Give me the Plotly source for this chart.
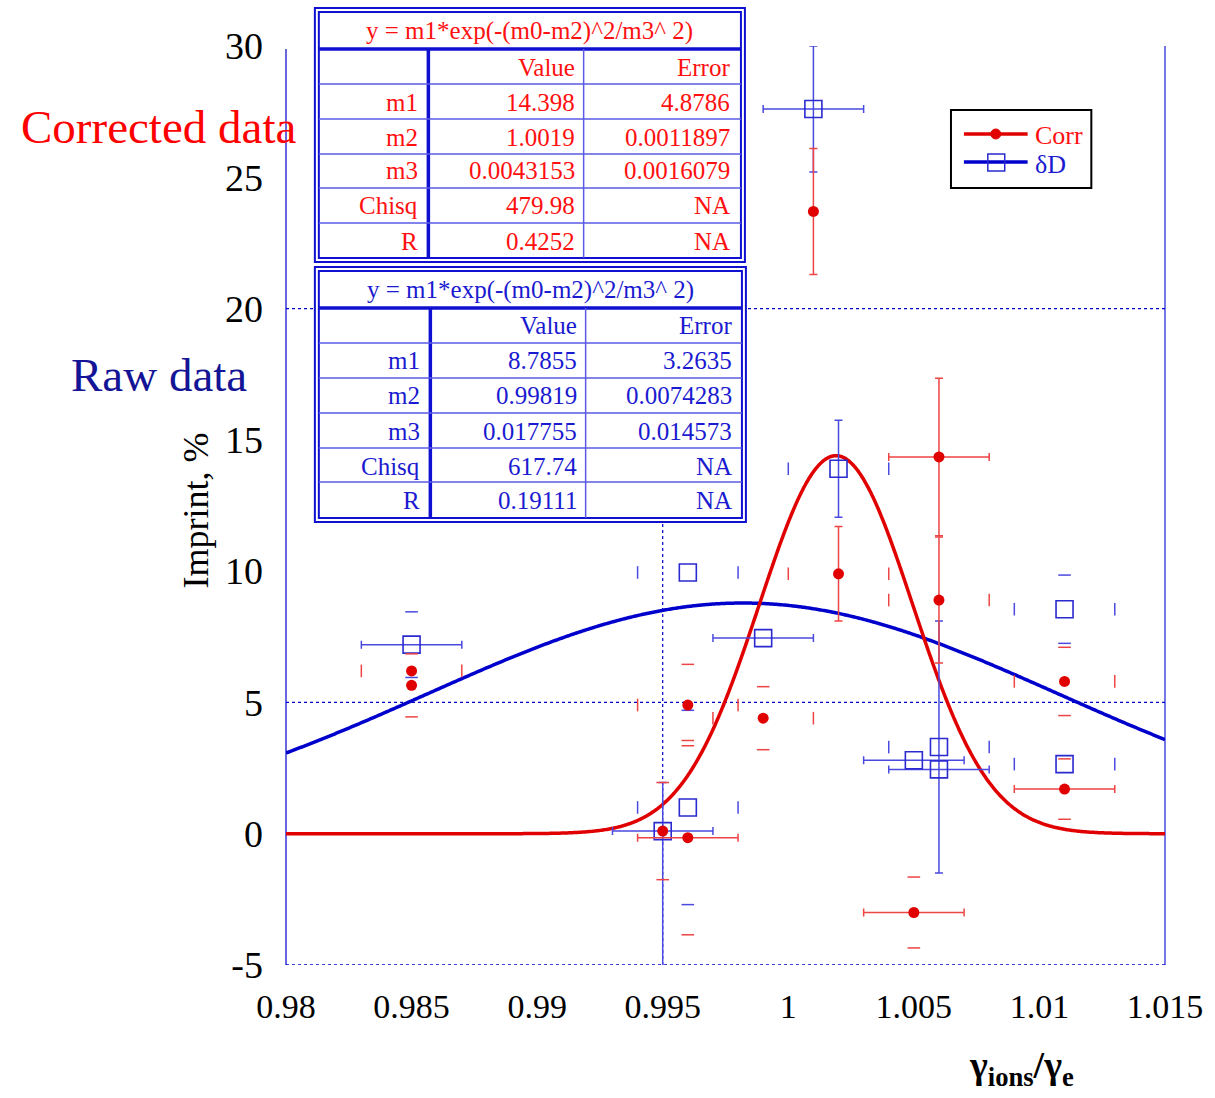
import numpy as np
import plotly.graph_objects as go

# ---------------- data ----------------
corr_x = [0.985, 0.985, 0.995, 0.996, 0.996, 0.999, 1.001, 1.002, 1.006, 1.006, 1.005, 1.011, 1.011]
corr_y = [6.2, 5.65, 0.1, 4.9, -0.15, 4.4, 23.7, 9.9, 14.35, 8.9, -3.0, 5.8, 1.7]
corr_xerr = [0.002, 0, 0, 0.002, 0.002, 0.002, 0, 0.002, 0.002, 0.002, 0.002, 0.002, 0.002]
corr_yerr = [0, 1.2, 1.85, 1.55, 3.7, 1.2, 2.4, 1.8, 3.0, 2.4, 1.35, 1.3, 1.15]
corr_xline = [0, 0, 0, 0, 1, 0, 0, 0, 1, 0, 1, 0, 1]
corr_yline = [0, 0, 0, 0, 0, 0, 1, 1, 1, 1, 0, 0, 0]

dd_x = [0.985, 0.995, 0.996, 0.996, 0.999, 1.001, 1.002, 1.005, 1.006, 1.006, 1.011, 1.011]
dd_y = [7.2, 0.1, 9.95, 1.0, 7.45, 27.6, 13.9, 2.8, 3.3, 2.45, 8.55, 2.65]
dd_xerr = [0.002, 0.002, 0.002, 0.002, 0.002, 0.002, 0.002, 0.002, 0.002, 0.002, 0.002, 0.002]
dd_yerr = [1.25, 1.85, 0, 3.7, 0, 2.4, 1.85, 0, 4.8, 0, 1.3, 0]
dd_yerr_lo = [1.25, 6.0, 0, 3.7, 0, 2.4, 1.85, 0, 4.8, 0, 1.3, 0]
dd_xline = [1, 1, 0, 0, 1, 1, 0, 1, 0, 1, 0, 0]
dd_yline = [0, 1, 0, 0, 0, 1, 1, 0, 1, 0, 0, 0]

# fit parameters (m1, m2, m3)
corr_fit = [14.398, 1.0019, 0.0043153]
dd_fit = [8.7855, 0.99819, 0.017755]

corr_table = [["m1", "14.398", "4.8786"], ["m2", "1.0019", "0.0011897"],
              ["m3", "0.0043153", "0.0016079"], ["Chisq", "479.98", "NA"],
              ["R", "0.4252", "NA"]]
dd_table = [["m1", "8.7855", "3.2635"], ["m2", "0.99819", "0.0074283"],
            ["m3", "0.017755", "0.014573"], ["Chisq", "617.74", "NA"],
            ["R", "0.19111", "NA"]]
fit_formula = "y = m1*exp(-(m0-m2)^2/m3^ 2)"

x_ticks = [0.98, 0.985, 0.99, 0.995, 1.0, 1.005, 1.01, 1.015]
x_ticklabels = ["0.98", "0.985", "0.99", "0.995", "1", "1.005", "1.01", "1.015"]
y_ticks = [-5, 0, 5, 10, 15, 20, 25, 30]
y_ticklabels = ["-5", "0", "5", "10", "15", "20", "25", "30"]
legend_names = ["Corr", "δD"]

# ---------------- style ----------------
W, H = 1215, 1098
L, R, T, B = 286, 46, 46, 133
PW, PH = W - L - R, H - T - B
SERIF = "Liberation Serif, Times New Roman, serif"
RED = "#e00000"
RED_E = "#ee4444"
BLUE = "#0000cc"
BLUE_E = "#4a4ae0"
TBL = "#1010d0"


def px(xp):
    return (xp - L) / PW


def py(yp):
    return (H - B - yp) / PH


fig = go.Figure()

# fit curves
xs = np.linspace(0.98, 1.015, 700)
for p, col in [(dd_fit, BLUE), (corr_fit, RED)]:
    ys = p[0] * np.exp(-((xs - p[1]) ** 2) / p[2] ** 2)
    fig.add_trace(go.Scatter(x=xs, y=ys, mode="lines",
                             line=dict(color=col, width=3.5, simplify=False),
                             showlegend=False, hoverinfo="skip"))


def add_series(x, y, xerr, yerr, yerr_lo, xline, yline, ecol, marker):
    n = len(x)
    ix = [i for i in range(n) if xline[i] and xerr[i] > 0]
    if ix:
        fig.add_trace(go.Scatter(
            x=[x[i] for i in ix], y=[y[i] for i in ix], mode="markers",
            marker=dict(size=1, opacity=0), showlegend=False, hoverinfo="skip",
            error_x=dict(type="data", array=[xerr[i] for i in ix], color=ecol,
                         thickness=1.5, width=4)))
    iy = [i for i in range(n) if yline[i] and yerr[i] > 0]
    if iy:
        fig.add_trace(go.Scatter(
            x=[x[i] for i in iy], y=[y[i] for i in iy], mode="markers",
            marker=dict(size=1, opacity=0), showlegend=False, hoverinfo="skip",
            error_y=dict(type="data", symmetric=False, array=[yerr[i] for i in iy],
                         arrayminus=[yerr_lo[i] for i in iy], color=ecol,
                         thickness=1.5, width=4)))
    hx, hy, vx, vy = [], [], [], []
    for i in range(n):
        if xerr[i] > 0 and not xline[i]:
            hx += [x[i] - xerr[i], x[i] + xerr[i]]
            hy += [y[i], y[i]]
        if yerr[i] > 0 and not yline[i]:
            vx += [x[i], x[i]]
            vy += [y[i] + yerr[i], y[i] - yerr_lo[i]]
    fig.add_trace(go.Scatter(x=hx, y=hy, mode="markers", showlegend=False, hoverinfo="skip",
                             marker=dict(symbol="line-ns", size=9, line=dict(color=ecol, width=1.5))))
    fig.add_trace(go.Scatter(x=vx, y=vy, mode="markers", showlegend=False, hoverinfo="skip",
                             marker=dict(symbol="line-ew", size=9, line=dict(color=ecol, width=1.5))))
    fig.add_trace(go.Scatter(x=x, y=y, mode="markers", marker=marker, showlegend=False,
                             hoverinfo="x+y"))


add_series(dd_x, dd_y, dd_xerr, dd_yerr, dd_yerr_lo, dd_xline, dd_yline, BLUE_E,
           dict(symbol="square-open", size=17, color="#2a2ad0", line=dict(width=1.6)))
add_series(corr_x, corr_y, corr_xerr, corr_yerr, corr_yerr, corr_xline, corr_yline, RED_E,
           dict(symbol="circle", size=11, color=RED))

shapes = []
# frame lines
shapes.append(dict(type="line", xref="paper", yref="paper", x0=0, x1=0, y0=0, y1=py(49),
                   line=dict(color=BLUE, width=1.2), layer="below"))
shapes.append(dict(type="line", xref="paper", yref="paper", x0=1, x1=1, y0=0, y1=1,
                   line=dict(color=BLUE_E, width=1.5), layer="below"))
shapes.append(dict(type="line", xref="paper", yref="y", x0=0, x1=1, y0=-5, y1=-5,
                   line=dict(color=BLUE, width=1.5, dash="dot"), layer="below"))
for yv in [5, 20]:
    shapes.append(dict(type="line", xref="paper", yref="y", x0=0, x1=1, y0=yv, y1=yv,
                       line=dict(color=BLUE, width=1.2, dash="dot"), layer="below"))
shapes.append(dict(type="line", xref="x", yref="paper", x0=0.995, x1=0.995, y0=0, y1=1,
                   line=dict(color=BLUE, width=1.2, dash="dot"), layer="below"))

annotations = []


def add_table(x0, x1, y0, y1, ccol1, ccol2, hbot, rows_y, text_col, data, title_y, row_centers,
              right_edges):
    shapes.append(dict(type="rect", xref="paper", yref="paper", x0=px(x0), x1=px(x1),
                       y0=py(y1), y1=py(y0), fillcolor="white", line=dict(color=TBL, width=2),
                       layer="above"))
    shapes.append(dict(type="rect", xref="paper", yref="paper", x0=px(x0 + 4), x1=px(x1 - 4),
                       y0=py(y1 - 4), y1=py(y0 + 4), line=dict(color=TBL, width=2), layer="above"))
    shapes.append(dict(type="line", xref="paper", yref="paper", x0=px(x0 + 4), x1=px(x1 - 4),
                       y0=py(hbot), y1=py(hbot), line=dict(color=TBL, width=3.5), layer="above"))
    shapes.append(dict(type="line", xref="paper", yref="paper", x0=px(ccol1), x1=px(ccol1),
                       y0=py(y1 - 4), y1=py(hbot), line=dict(color=TBL, width=3.5), layer="above"))
    shapes.append(dict(type="line", xref="paper", yref="paper", x0=px(ccol2), x1=px(ccol2),
                       y0=py(y1 - 4), y1=py(hbot), line=dict(color="#5a5ae6", width=1.5),
                       layer="above"))
    for ry in rows_y:
        shapes.append(dict(type="line", xref="paper", yref="paper", x0=px(x0 + 4), x1=px(x1 - 4),
                           y0=py(ry), y1=py(ry), line=dict(color="#5a5ae6", width=1.5),
                           layer="above"))
    annotations.append(dict(xref="paper", yref="paper", x=px((x0 + x1) / 2), y=py(title_y),
                            text=fit_formula, showarrow=False, xanchor="center", yanchor="middle",
                            font=dict(family=SERIF, size=25, color=text_col)))
    all_rows = [["", "Value", "Error"]] + data
    for r, row in enumerate(all_rows):
        for c, txt in enumerate(row):
            if not txt:
                continue
            annotations.append(dict(xref="paper", yref="paper", x=px(right_edges[c]),
                                    y=py(row_centers[r]), text=txt, showarrow=False,
                                    xanchor="right", yanchor="middle",
                                    font=dict(family=SERIF, size=25, color=text_col)))


add_table(315, 747, 8, 262, 429, 585, 49, [84, 119, 154, 188, 223], "#ff1010", corr_table, 31,
          [67, 102, 137, 171, 206, 241], [421, 578, 734])
add_table(315, 748, 267, 522, 431, 587, 308, [343, 378, 413, 448, 482], "#1a1ad0", dd_table, 290,
          [326, 361, 395, 431, 466, 500], [423, 580, 736])

# manual legend
shapes.append(dict(type="rect", xref="paper", yref="paper", x0=px(954), x1=px(1095),
                   y0=py(188), y1=py(110), fillcolor="white", line=dict(color="black", width=2),
                   layer="above"))
shapes.append(dict(type="line", xref="paper", yref="paper", x0=px(967), x1=px(1031),
                   y0=py(134), y1=py(134), line=dict(color=RED, width=3.5), layer="above"))
shapes.append(dict(type="circle", xref="paper", yref="paper", x0=px(994), x1=px(1004),
                   y0=py(139), y1=py(129), fillcolor=RED, line=dict(color=RED, width=1),
                   layer="above"))
shapes.append(dict(type="line", xref="paper", yref="paper", x0=px(967), x1=px(1031),
                   y0=py(162), y1=py(162), line=dict(color=BLUE, width=3.5), layer="above"))
shapes.append(dict(type="rect", xref="paper", yref="paper", x0=px(991), x1=px(1008),
                   y0=py(171), y1=py(154), line=dict(color="#2a2ad0", width=1.5),
                   layer="above"))
for name, col, yy in [(legend_names[0], "#ff1010", 135), (legend_names[1], "#1a1ad0", 164)]:
    annotations.append(dict(xref="paper", yref="paper", x=px(1036), y=py(yy), text=name,
                            showarrow=False, xanchor="left", yanchor="middle",
                            font=dict(family=SERIF, size=26, color=col)))

annotations.append(dict(xref="paper", yref="paper", x=px(158), y=py(127), text="Corrected data",
                        showarrow=False, xanchor="center", yanchor="middle",
                        font=dict(family=SERIF, size=47, color="#ff0000")))
annotations.append(dict(xref="paper", yref="paper", x=px(158), y=py(375), text="Raw data",
                        showarrow=False, xanchor="center", yanchor="middle",
                        font=dict(family=SERIF, size=47, color="#141496")))
annotations.append(dict(xref="paper", yref="paper", x=px(196), y=py(510), text="Imprint, %",
                        showarrow=False, textangle=-90, xanchor="center", yanchor="middle",
                        font=dict(family=SERIF, size=36, color="black")))
annotations.append(dict(xref="paper", yref="paper", x=px(1025), y=py(1068),
                        text="<b>γ<sub>ions</sub>/γ<sub>e</sub></b>",
                        showarrow=False, xanchor="center", yanchor="middle",
                        font=dict(family=SERIF, size=38, color="black")))

fig.update_layout(
    width=W, height=H, margin=dict(l=L, r=R, t=T, b=B),
    paper_bgcolor="white", plot_bgcolor="white",
    shapes=shapes, annotations=annotations,
    showlegend=False,
    xaxis=dict(range=[0.98, 1.015], tickvals=x_ticks, ticktext=x_ticklabels,
               showgrid=False, zeroline=False, showline=False, ticks="",
               tickfont=dict(family=SERIF, size=34, color="black"), ticklabelstandoff=18),
    yaxis=dict(range=[-5, 30], tickvals=y_ticks, ticktext=y_ticklabels, showgrid=False,
               zeroline=False, showline=False, ticks="",
               tickfont=dict(family=SERIF, size=38, color="black"), ticklabelstandoff=22),
)

fig.write_html("out.html")
